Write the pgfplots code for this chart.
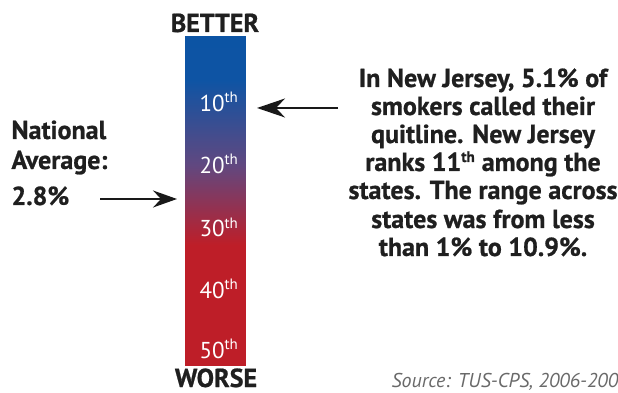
\documentclass[border=0pt]{standalone}
\usepackage{fontspec}
\setmainfont{PT Sans}[BoldFeatures={FakeBold=0.8}]
\usepackage{pgfplots}
\pgfplotsset{compat=1.18}
\usetikzlibrary{arrows.meta}
\definecolor{srcgray}{RGB}{105,105,105}
\newcommand{\bigtxt}{\fontsize{26bp}{28bp}\selectfont\bfseries}
\newcommand{\rk}[1]{\fontsize{23bp}{24bp}\selectfont #1\textsuperscript{\fontsize{15bp}{16bp}\selectfont th}}
\begin{document}
\begin{tikzpicture}
\useasboundingbox (0,0) rectangle (618bp,393bp);
\clip (0,0) rectangle (618bp,393bp);
\begin{axis}[
  at={(0,0)}, anchor=south west,
  scale only axis, width=618bp, height=393bp,
  xmin=0, xmax=618, ymin=0, ymax=393, zmin=-1, zmax=1,
  y dir=reverse, view={0}{90},
  hide axis, clip=false,
  colormap={bar}{rgb255(0pt)=(12,84,164); rgb255(44pt)=(14,84,164); rgb255(129pt)=(97,72,128); rgb255(209pt)=(190,30,40); rgb255(329pt)=(190,30,40)},
  point meta min=36, point meta max=365,
]
\addplot3[surf, shader=interp, mesh/cols=2, point meta=y] table {
x y z
185 36 0
245 36 0
185 80 0
245 80 0
185 165 0
245 165 0
185 245 0
245 245 0
185 365 0
245 365 0
};
% rank labels
\node[white, anchor=base] at (axis cs:219,112) {\rk{10}};
\node[white, anchor=base] at (axis cs:219,174) {\rk{20}};
\node[white, anchor=base] at (axis cs:219,237) {\rk{30}};
\node[white, anchor=base] at (axis cs:219,298) {\rk{40}};
\node[white, anchor=base] at (axis cs:219,358) {\rk{50}};
% better / worse
\node[anchor=base, text=black!88] at (axis cs:215,32) {\bigtxt BETTER};
\node[anchor=base, text=black!88] at (axis cs:216,387) {\bigtxt WORSE};
% cut title
\node[anchor=base east, text=black!88] at (axis cs:345,-12) {\fontsize{44bp}{48bp}\selectfont\bfseries Usage,};
% left text
\node[anchor=base west, text=black!88] at (axis cs:8,139) {\bigtxt National};
\node[anchor=base west, text=black!88] at (axis cs:8,169) {\bigtxt Average:};
\node[anchor=base west, text=black!88] at (axis cs:8,205) {\bigtxt 2.8\%};
\draw[line width=2bp, black!90, -{Stealth[length=24bp,width=17bp,inset=8bp]}] (axis cs:100,199) -- (axis cs:177,199);
% right arrow
\draw[line width=2bp, black!90, -{Stealth[length=28bp,width=19bp,inset=9bp]}] (axis cs:338,108) -- (axis cs:257,108);
% right text
\node[anchor=base, text=black!88] at (axis cs:483,87) {\bigtxt In New Jersey, 5.1\% of};
\node[anchor=base, text=black!88] at (axis cs:483,115) {\bigtxt smokers called their};
\node[anchor=base, text=black!88] at (axis cs:483,143) {\bigtxt quitline. New Jersey};
\node[anchor=base, text=black!88] at (axis cs:483,171) {\bigtxt ranks 11\textsuperscript{\fontsize{15bp}{16bp}\selectfont th} among the};
\node[anchor=base, text=black!88] at (axis cs:483,199) {\bigtxt states. The range across};
\node[anchor=base, text=black!88] at (axis cs:483,228) {\bigtxt states was from less};
\node[anchor=base, text=black!88] at (axis cs:483,256) {\bigtxt than 1\% to 10.9\%.};
% source
\node[anchor=base west, text=srcgray] at (axis cs:388,387) {\fontsize{20bp}{22bp}\selectfont\itshape Source: TUS-CPS, 2006-2007};
\end{axis}
\end{tikzpicture}
\end{document}
